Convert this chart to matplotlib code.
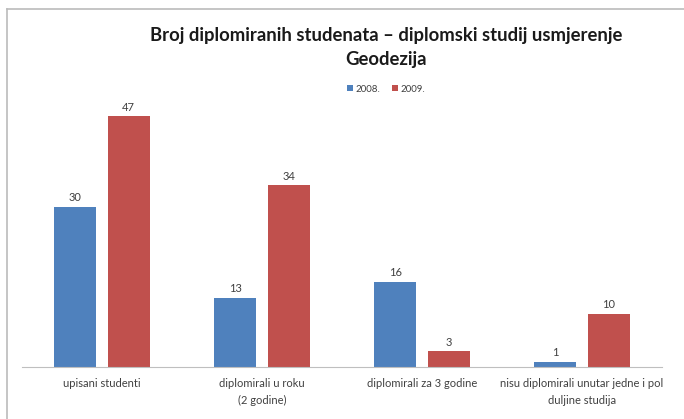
import matplotlib.pyplot as plt
from matplotlib.lines import Line2D
import numpy as np

plt.rcParams['font.family'] = ['Lato', 'DejaVu Sans']

categories = ["upisani studenti", "diplomirali u roku\n(2 godine)",
              "diplomirali za 3 godine",
              "nisu diplomirali unutar jedne i pol\nduljine studija"]
v2008 = [30, 13, 16, 1]
v2009 = [47, 34, 3, 10]
series = ["2008.", "2009."]

blue = "#4F81BD"
red = "#C0504D"

fig = plt.figure(figsize=(6.84, 4.19), dpi=100)
ax = fig.add_axes([22 / 684, 1 - 367 / 419, 640 / 684, 267 / 419])

x = np.arange(len(categories))
w = 0.2625
off = 0.166
b1 = ax.bar(x - off, v2008, w, color=blue, label=series[0])
b2 = ax.bar(x + off, v2009, w, color=red, label=series[1])

for bars in (b1, b2):
    for b in bars:
        ax.annotate(str(int(b.get_height())),
                    (b.get_x() + b.get_width() / 2, b.get_height()),
                    xytext=(0, 2.5), textcoords="offset points",
                    ha="center", va="bottom", fontsize=8, color="#404040")

ax.set_xlim(-0.5, 3.5)
ax.set_ylim(0, 50)
ax.set_xticks(x)
ax.set_xticklabels(categories, fontsize=8, color="#404040", linespacing=1.6)
ax.tick_params(axis="x", length=0, pad=8)
ax.set_yticks([])
for s in ["top", "left", "right"]:
    ax.spines[s].set_visible(False)
ax.spines["bottom"].set_color("#BFBFBF")

fig.text(386 / 684, 1 - 35 / 419, "Broj diplomiranih studenata \u2013 diplomski studij usmjerenje",
         ha="center", va="center", fontsize=13.3, fontweight="bold", color="#1a1a1a")
fig.text(386 / 684, 1 - 59 / 419, "Geodezija",
         ha="center", va="center", fontsize=13.3, fontweight="bold", color="#1a1a1a")

fig.legend(handles=[b1, b2], labels=series, loc="center",
           bbox_to_anchor=(386 / 684, 1 - 89 / 419), ncol=2, frameon=False,
           fontsize=7, handlelength=0.6, handleheight=0.6, handletextpad=0.3,
           columnspacing=1.2, labelcolor="#404040")

# outer chart border (left and top visible)
fig.add_artist(Line2D([7 / 684, 7 / 684], [0, 1 - 9 / 419], color="#BBBBBB", lw=1.2))
fig.add_artist(Line2D([7 / 684, 1], [1 - 9 / 419, 1 - 9 / 419], color="#BBBBBB", lw=1.2))

fig.savefig("out.png", dpi=100)
